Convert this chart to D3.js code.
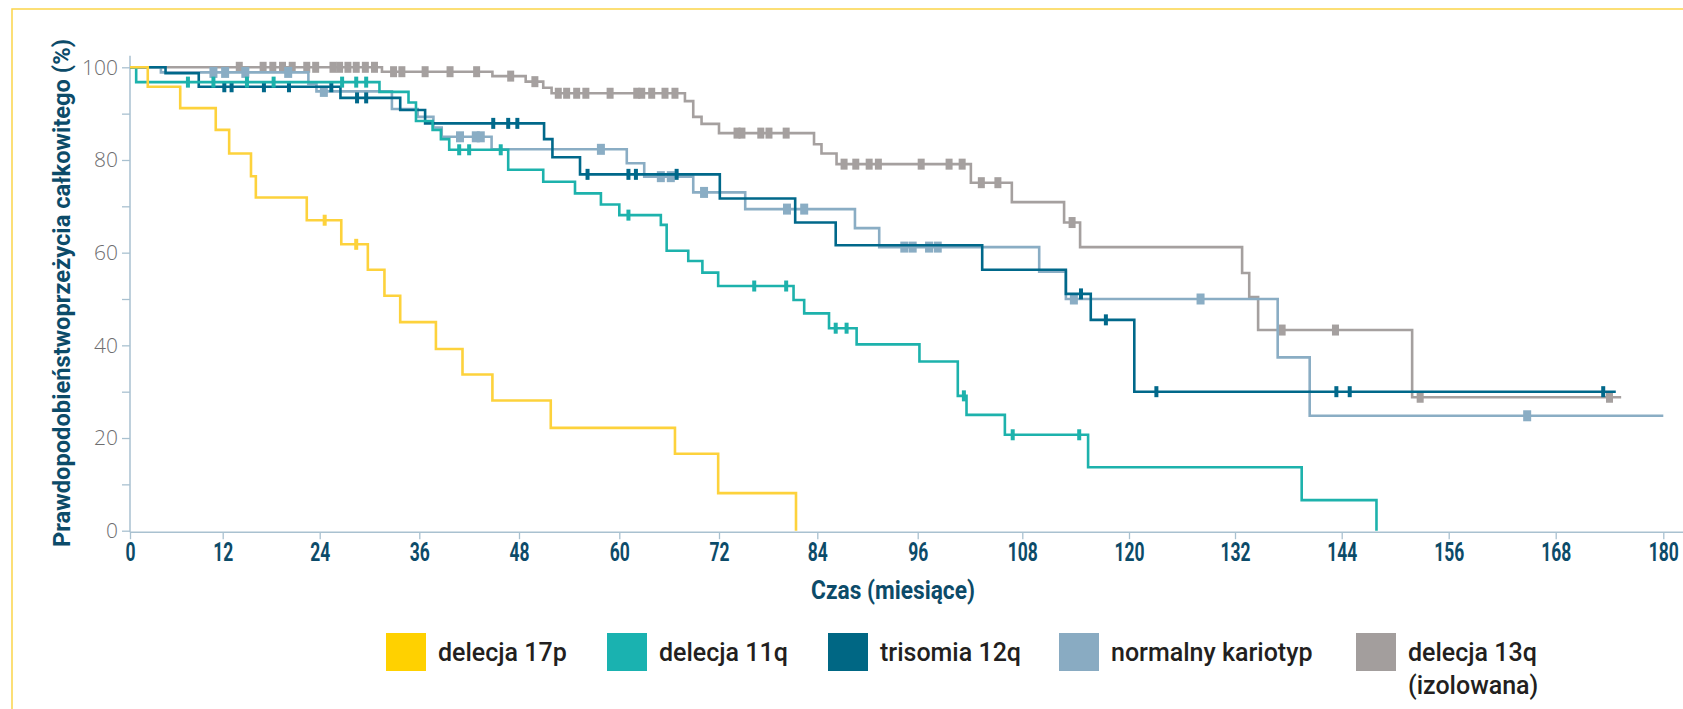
<!DOCTYPE html>
<html>
<head>
<meta charset="utf-8">
<script src="https://cdn.jsdelivr.net/npm/d3@7/dist/d3.min.js"></script>
<style>
  body { margin: 0; background: #fff; }
  svg { display: block; }
</style>
</head>
<body>
<svg id="chart" width="1683" height="709"></svg>
<script>
  // legend / series names
  const seriesNames = ['delecja 17p', 'delecja 11q', 'trisomia 12q', 'normalny kariotyp', 'delecja 13q']
  const xTicks = [0, 12, 24, 36, 48, 60, 72, 84, 96, 108, 120, 132, 144, 156, 168, 180]
  const yTicks = [0, 20, 40, 60, 80, 100]

  // step times (months) and survival (%) right after each step, censored times
  const del17pTimes = [2.3, 6.5, 11.1, 12.8, 15.5, 16.1, 22.4, 26.6, 29.8, 31.8, 33.7, 38.0, 41.2, 44.8, 51.8, 66.7, 71.9, 81.4]
  const del17pSurv = [95.8, 91.2, 86.5, 81.4, 76.5, 71.9, 67.0, 61.8, 56.3, 50.7, 45.0, 39.2, 33.7, 28.1, 22.2, 16.6, 8.1, 0]
  const del17pCens = [24.6, 28.4]

  const del11qTimes = [0.8, 31.2, 34.7, 35.6, 37.6, 38.6, 39.6, 46.7, 50.9, 54.7, 57.8, 60.0, 65.0, 65.7, 68.3, 70.0, 71.9, 81.1, 82.4, 85.4, 88.7, 96.2, 100.6, 101.6, 106.0, 115.4, 139.5, 147.9]
  const del11qSurv = [96.8, 94.7, 92.4, 88.4, 86.5, 84.5, 82.2, 77.9, 75.3, 72.8, 70.4, 68.1, 66.0, 60.4, 58.2, 55.7, 52.8, 49.8, 46.9, 43.7, 40.2, 36.5, 29.1, 25.0, 20.7, 13.7, 6.6, 0]
  const del11qCens = [7.5, 10.8, 15.0, 18.3, 26.7, 28.4, 29.6, 40.8, 42.0, 45.8, 61.1, 76.3, 80.2, 86.2, 87.5, 101.3, 106.9, 114.4]

  const tri12qTimes = [4.6, 8.9, 26.5, 33.7, 36.7, 51.0, 52.0, 55.3, 72.1, 81.3, 86.2, 103.4, 112.9, 115.7, 120.6]
  const tri12qSurv = [98.7, 95.8, 93.4, 90.8, 87.9, 84.5, 80.6, 76.9, 71.7, 66.5, 61.6, 56.3, 51.1, 45.5, 30.0]
  const tri12qCens = [12.2, 13.1, 17.1, 20.2, 25.4, 28.5, 29.6, 44.9, 46.7, 47.8, 56.2, 61.1, 62.0, 66.9, 114.6, 117.4, 123.1, 143.4, 144.9, 173.3]

  const normalTimes = [4.0, 22.6, 23.6, 32.7, 35.8, 37.7, 38.7, 44.7, 60.9, 63.0, 68.9, 75.2, 88.5, 91.4, 109.9, 112.9, 136.8, 140.4]
  const normalSurv = [98.9, 96.4, 94.8, 91.0, 89.3, 87.0, 85.0, 82.3, 79.3, 76.4, 73.0, 69.4, 65.3, 61.2, 55.9, 50.0, 37.4, 24.8]
  const normalCens = [10.8, 12.3, 14.8, 20.1, 24.5, 40.9, 42.8, 43.4, 57.8, 65.0, 66.2, 70.2, 80.3, 82.4, 94.4, 95.4, 97.3, 98.3, 113.8, 128.1, 164.8]

  const del13qTimes = [31.5, 44.8, 48.8, 50.9, 51.9, 67.9, 68.9, 69.9, 72.0, 83.6, 84.5, 86.3, 102.1, 106.8, 112.7, 114.5, 132.8, 133.6, 134.6, 151.9]
  const del13qSurv = [99.05, 98.1, 96.9, 95.6, 94.4, 92.7, 89.3, 87.8, 85.8, 83.4, 81.4, 79.1, 75.1, 70.9, 66.5, 61.2, 55.6, 50.4, 43.3, 28.8]
  const del13qCens = [14.05, 17.0, 18.2, 19.4, 20.6, 22.4, 23.5, 25.6, 26.4, 27.4, 28.4, 29.5, 30.6, 32.9, 33.9, 36.7, 39.7, 42.9, 47.0, 49.9, 52.7, 53.7, 54.9, 56.0, 58.9, 62.1, 62.7, 63.9, 65.5, 66.7, 74.2, 74.8, 77.1, 78.1, 80.2, 87.2, 88.6, 90.2, 91.3, 96.4, 99.6, 101.1, 103.3, 105.2, 113.6, 137.3, 143.3, 152.8, 174.0]

  // last follow-up for each curve
  const endTimes = [81.4, 147.9, 174.7, 180, 175.3]

  const colors = ['#fdd23c', '#1db2ac', '#00688a', '#8aadc4', '#a5a09f']
  const legendColors = ['#ffd100', '#1ab2b0', '#006784', '#89abc2', '#a39e9d']
  const markWidths = [4, 4, 4, 8, 7]

  const series = [
    { times: del17pTimes, surv: del17pSurv, cens: del17pCens },
    { times: del11qTimes, surv: del11qSurv, cens: del11qCens },
    { times: tri12qTimes, surv: tri12qSurv, cens: tri12qCens },
    { times: normalTimes, surv: normalSurv, cens: normalCens },
    { times: del13qTimes, surv: del13qSurv, cens: del13qCens }
  ].map((s, i) => Object.assign(s, { name: seriesNames[i], color: colors[i], end: endTimes[i], mw: markWidths[i] }))

  const svg = d3.select('#chart')
  const axisColor = '#a9c1d0'
  const navy = '#0c4b69'
  const boldFont = "Roboto, 'Open Sans', sans-serif"

  // yellow frame
  svg.append('rect')
    .attr('x', 12).attr('y', 9)
    .attr('width', 1700).attr('height', 720)
    .attr('fill', 'none')
    .attr('stroke', '#fbd54a')
    .attr('stroke-width', 1.5)

  // the month axis in the source is not evenly spaced, so the scale is polylinear
  const x = d3.scaleLinear()
    .domain(xTicks)
    .range([130, 222.7, 319.7, 419.3, 519, 619.3, 719, 817.3, 917.7, 1022.3, 1129, 1235, 1341.7, 1448.7, 1555.7, 1663.3])

  const y = d3.scaleLinear()
    .domain([0, 100])
    .range([530.7, 67.3])

  const x0 = x(0)
  const axisY = y(0) + 1.5

  // y axis
  const yAxis = svg.append('g')
    .attr('transform', `translate(${x0},0)`)
    .call(d3.axisLeft(y).tickValues(d3.range(0, 101, 10)).tickSize(8).tickPadding(4)
      .tickFormat(d => yTicks.includes(d) ? d : ''))
  yAxis.select('.domain').remove()
  yAxis.selectAll('line').attr('stroke', axisColor).attr('stroke-width', 1.3)
  yAxis.selectAll('text')
    .attr('fill', '#6e6e70')
    .style('font-family', "'Open Sans', Lato, sans-serif")
    .style('font-weight', 300)
    .style('font-size', '21px')
  svg.append('line')
    .attr('x1', x0).attr('x2', x0)
    .attr('y1', y(102.5)).attr('y2', axisY)
    .attr('stroke', axisColor).attr('stroke-width', 1.5)

  // x axis (labels squeezed horizontally, like the condensed face of the original)
  const xAxis = svg.append('g')
    .attr('transform', `translate(0,${axisY})`)
    .call(d3.axisBottom(x).tickValues(xTicks).tickSize(7).tickPadding(4))
  xAxis.select('.domain').remove()
  xAxis.selectAll('line').attr('stroke', axisColor).attr('stroke-width', 1.3)
  xAxis.selectAll('text')
    .attr('fill', navy)
    .attr('transform', 'scale(0.7,1)')
    .style('font-family', boldFont)
    .style('font-weight', 700)
    .style('font-size', '25px')
  svg.append('line')
    .attr('x1', x0).attr('x2', 1683)
    .attr('y1', axisY).attr('y2', axisY)
    .attr('stroke', axisColor).attr('stroke-width', 1.5)

  // axis titles
  svg.append('text')
    .attr('x', 893).attr('y', 599)
    .attr('text-anchor', 'middle')
    .attr('textLength', 164)
    .attr('lengthAdjust', 'spacingAndGlyphs')
    .attr('fill', navy)
    .style('font-family', boldFont)
    .style('font-weight', 700)
    .style('font-size', '25px')
    .text('Czas (miesiące)')

  svg.append('text')
    .attr('transform', 'translate(70,293) rotate(-90)')
    .attr('text-anchor', 'middle')
    .attr('textLength', 508)
    .attr('lengthAdjust', 'spacingAndGlyphs')
    .attr('fill', navy)
    .style('font-family', boldFont)
    .style('font-weight', 700)
    .style('font-size', '24px')
    .text('Prawdopodobieństwoprzeżycia całkowitego (%)')

  // survival curves
  const line = d3.line()
    .x(d => x(d[0]))
    .y(d => y(d[1]))
    .curve(d3.curveStepAfter)

  function survAt(s, t) {
    let v = 100
    s.times.forEach((tt, i) => { if (tt <= t) v = s.surv[i] })
    return v
  }

  // draw back to front: gray, light blue, dark teal, teal, yellow
  const order = [4, 3, 2, 1, 0]
  order.forEach(i => {
    const s = series[i]
    const pts = [[0, 100]].concat(s.times.map((t, j) => [t, s.surv[j]]))
    pts.push([s.end, s.surv[s.surv.length - 1]])
    const g = svg.append('g')
    g.append('path')
      .attr('d', line(pts))
      .attr('fill', 'none')
      .attr('stroke', s.color)
      .attr('stroke-width', 2.6)
    g.selectAll('rect')
      .data(s.cens)
      .join('rect')
      .attr('x', d => x(d) - s.mw / 2)
      .attr('y', d => y(survAt(s, d)) - 5.5)
      .attr('width', s.mw)
      .attr('height', 11)
      .attr('fill', s.color)
  })

  // legend
  const legendX = [386, 607, 828, 1059, 1356]
  const legend = svg.append('g')
  seriesNames.forEach((name, i) => {
    legend.append('rect')
      .attr('x', legendX[i]).attr('y', 633)
      .attr('width', 40).attr('height', 38)
      .attr('fill', legendColors[i])
    legend.append('text')
      .attr('x', legendX[i] + 52).attr('y', 661)
      .attr('fill', '#231f20')
      .style('font-family', boldFont)
      .style('font-weight', 500)
      .style('font-size', '25px')
      .text(name)
    if (i === 4) {
      legend.append('text')
        .attr('x', legendX[i] + 52).attr('y', 694)
        .attr('fill', '#231f20')
        .style('font-family', boldFont)
        .style('font-weight', 500)
        .style('font-size', '25px')
        .text('(izolowana)')
    }
  })
</script>
</body>
</html>
